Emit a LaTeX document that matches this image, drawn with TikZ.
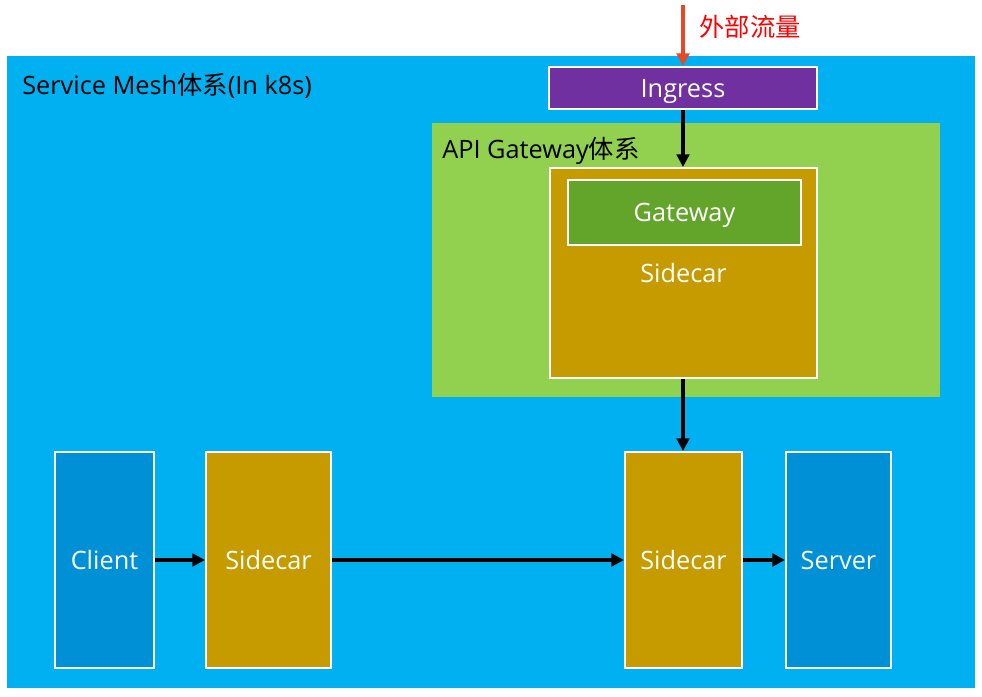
\documentclass[tikz,border=0pt]{standalone}
\usepackage{fontspec}
\setmainfont{Open Sans}
\newfontfamily\cjk{Noto Sans CJK SC}
\usetikzlibrary{arrows.meta}
\definecolor{meshblue}{HTML}{00B0F0}
\definecolor{appblue}{HTML}{0090D6}
\definecolor{ingpurple}{HTML}{7030A0}
\definecolor{gwgreen}{HTML}{92D050}
\definecolor{gwdark}{HTML}{63A52A}
\definecolor{sidegold}{HTML}{C59B00}
\definecolor{flowred}{HTML}{E5492A}
\tikzset{
  box/.style={draw=white, line width=1.4pt, text=white, inner sep=0pt,
    text depth=0pt, font=\fontsize{18}{20}\selectfont},
  area/.style={inner sep=0pt},
  flow/.style={line width=2.4pt, -{Triangle[length=9pt,width=9pt]}},
  title/.style={anchor=west, inner sep=0pt, font=\fontsize{18}{20}\selectfont}
}
\begin{document}
\begin{tikzpicture}[x=0.025cm,y=-0.025cm]
\useasboundingbox (0,0) rectangle (982,697);
% areas
\node[area, fill=meshblue, minimum width=24.2cm, minimum height=15.8cm] (mesh) at (491,372) {};
\node[title] (meshtitle) at (22,86) {Service Mesh{\cjk 体系}(In k8s)};
\node[area, fill=gwgreen, minimum width=12.7cm, minimum height=6.85cm] (apigw) at (686,260) {};
\node[title] (apititle) at (442,151) {API Gateway{\cjk 体系}};

% ingress and gateway
\node[box, fill=ingpurple, minimum width=6.7cm, minimum height=1.05cm] (ingress) at (683,88) {Ingress};
\node[box, fill=sidegold, minimum width=6.675cm, minimum height=5.25cm] (gwside) at (683.5,273) {Sidecar};
\node[box, fill=gwdark, minimum width=5.825cm, minimum height=1.625cm] (gateway) at (684.5,212.5) {Gateway};

% services
\node[box, fill=appblue, minimum width=2.475cm, minimum height=5.4cm] (client) at (104.5,560) {Client};
\node[box, fill=sidegold, minimum width=3.125cm, minimum height=5.4cm] (cside) at (268.5,560) {Sidecar};
\node[box, fill=sidegold, minimum width=2.925cm, minimum height=5.4cm] (sside) at (683.5,560) {Sidecar};
\node[box, fill=appblue, minimum width=2.625cm, minimum height=5.4cm] (server) at (838.5,560) {Server};

% outside traffic
\coordinate (outside) at (683,5);
\node[inner sep=0pt, text=red, font=\cjk\fontsize{18}{20}\selectfont] (outlabel) at (750,27) {外部流量};
\draw[flowred, line width=2.2pt, -{Triangle[length=9pt,width=9pt]}] (outside) -- (ingress.north -| outside);

% flows
\draw[flow] (ingress.south -| outside) -- (gwside.north -| outside);
\draw[flow] (gwside.south -| outside) -- (sside.north -| outside);
\draw[flow] (client) -- (cside);
\draw[flow] (cside) -- (sside);
\draw[flow] (sside) -- (server);
\end{tikzpicture}
\end{document}
